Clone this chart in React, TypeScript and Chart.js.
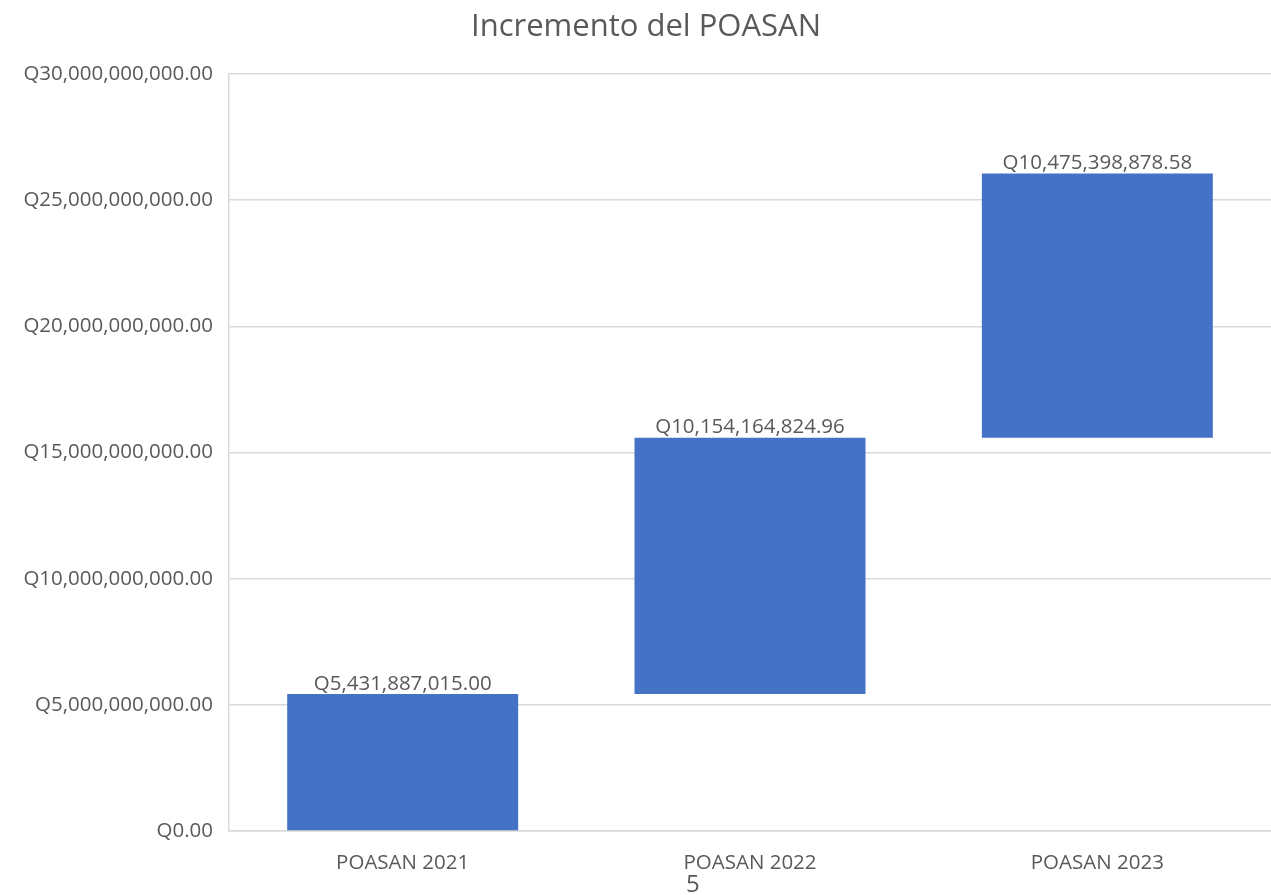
import React, { useEffect, useRef } from "react";
import { Chart, registerables } from "chart.js";

Chart.register(...registerables);

const categories = ["POASAN 2021", "POASAN 2022", "POASAN 2023"];
const increments = [5431887015.0, 10154164824.96, 10475398878.58];
const yTicks = [0, 5e9, 1e10, 1.5e10, 2e10, 2.5e10, 3e10];
const chartTitle = "Incremento del POASAN";
const pageNumber = "5";

const FONT = "'Open Sans', 'Noto Sans', sans-serif";
const GRAY = "#595959";

const fmt = (v: number) =>
  "Q" + v.toLocaleString("en-US", { minimumFractionDigits: 2, maximumFractionDigits: 2 });

export default function App() {
  const ref = useRef<HTMLCanvasElement | null>(null);

  useEffect(() => {
    if (!ref.current) return;
    const floating: [number, number][] = [];
    let acc = 0;
    increments.forEach((v) => {
      floating.push([acc, acc + v]);
      acc += v;
    });

    const labelPlugin = {
      id: "labels",
      afterDatasetsDraw(chart: any) {
        const ctx = chart.ctx;
        const meta = chart.getDatasetMeta(0);
        ctx.save();
        ctx.font = `20.5px ${FONT}`;
        ctx.fillStyle = GRAY;
        ctx.textAlign = "center";
        ctx.textBaseline = "bottom";
        meta.data.forEach((bar: any, i: number) => {
          ctx.fillText(fmt(increments[i]), bar.x, bar.y);
        });
        ctx.restore();
      },
    };

    const titlePlugin = {
      id: "ttl",
      afterDraw(chart: any) {
        const ctx = chart.ctx;
        ctx.save();
        ctx.font = `31px ${FONT}`;
        ctx.fillStyle = GRAY;
        ctx.textAlign = "center";
        ctx.textBaseline = "middle";
        ctx.fillText(chartTitle, 646, 27);
        ctx.restore();
      },
    };

    const chart = new Chart(ref.current, {
      type: "bar",
      data: {
        labels: categories,
        datasets: [
          {
            data: floating as any,
            backgroundColor: "#4472C4",
            borderWidth: 0,
            categoryPercentage: 1,
            barPercentage: 0.665,
            borderSkipped: false,
          },
        ],
      },
      options: {
        animation: false,
        responsive: false,
        maintainAspectRatio: false,
        layout: { padding: { top: 74, right: 0, bottom: 0, left: 0 } },
        plugins: {
          legend: { display: false },
          tooltip: { enabled: false },
          title: { display: false },
        },
        scales: {
          x: {
            grid: { display: false, drawTicks: false },
            border: { display: true, color: "#d9d9d9", width: 1.5 },
            ticks: {
              color: GRAY,
              font: { family: FONT, size: 20.5 },
              padding: 20,
              maxRotation: 0,
            },
            afterFit(scale: any) {
              scale.height = 64;
            },
          },
          y: {
            min: 0,
            max: 3e10,
            afterBuildTicks(scale: any) {
              scale.ticks = yTicks.map((v) => ({ value: v }));
            },
            grid: { color: "#d9d9d9", lineWidth: 1.5, drawTicks: false },
            border: { display: true, color: "#d9d9d9", width: 1.5 },
            ticks: {
              color: GRAY,
              font: { family: FONT, size: 20.5 },
              padding: 16,
              callback: (v: any) => fmt(Number(v)),
            },
            afterFit(scale: any) {
              scale.width = 229;
            },
          },
        },
      },
      plugins: [labelPlugin, titlePlugin],
    });
    return () => chart.destroy();
  }, []);

  return (
    <div style={{ position: "absolute", left: 0, top: 0, width: 1271, height: 895, background: "#fff" }}>
      <canvas ref={ref} width={1271} height={895} style={{ display: "block" }} />
      <span
        style={{
          position: "absolute",
          left: 686,
          top: 868,
          fontFamily: FONT,
          fontSize: 24,
          color: GRAY,
          lineHeight: "30px",
        }}
      >
        {pageNumber}
      </span>
    </div>
  );
}
